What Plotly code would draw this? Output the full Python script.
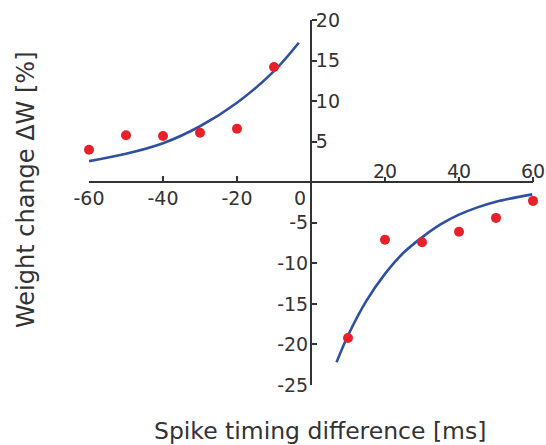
import plotly.graph_objects as go

# Measured weight changes (STDP) at each spike timing difference
dt_pre = [-60, -50, -40, -30, -20, -10]
dw_pre = [4.0, 5.8, 5.7, 6.1, 6.6, 14.2]
dt_post = [10, 20, 30, 40, 50, 60]
dw_post = [-19.2, -7.1, -7.4, -6.1, -4.4, -2.3]

# Exponential fit curves, sampled along each branch
fit_pre_t = [-60, -50, -40, -30, -20, -10, -3.3]
fit_pre_w = [2.6, 3.5, 4.8, 6.9, 9.8, 13.7, 17.2]
fit_post_t = [6.9, 10, 15, 20, 25, 30, 35, 40, 45, 50, 59.8]
fit_post_w = [-22.2, -18.9, -14.6, -11.3, -8.7, -6.8, -5.2, -4.0, -3.1, -2.4, -1.5]

# Tick labels: negative x below the axis, positive x above it;
# positive y right of the axis, negative y left of it
x_ticks_neg = [-60, -40, -20]
x_ticks_pos = [20, 40, 60]
y_ticks_pos = [5, 10, 15, 20]
y_ticks_neg = [-5, -10, -15, -20, -25]

x_range = [-60, 60]
y_range = [-25, 20]

INK = "#333333"
RED = "#e62129"
BLUE = "#2f4fa2"
FONT = "DejaVu Sans"
TICK_SIZE = 19


def labels(vals):
    # plain hyphen-minus rather than the typographic minus
    return [str(v) for v in vals]


fig = go.Figure()

fig.add_trace(go.Scatter(x=fit_pre_t, y=fit_pre_w, mode="lines",
                         line=dict(color=BLUE, width=2.6, shape="spline"),
                         hoverinfo="skip"))
fig.add_trace(go.Scatter(x=fit_post_t, y=fit_post_w, mode="lines",
                         line=dict(color=BLUE, width=2.6, shape="spline"),
                         hoverinfo="skip"))
fig.add_trace(go.Scatter(x=dt_pre + dt_post, y=dw_pre + dw_post, mode="markers",
                         marker=dict(color=RED, size=10), cliponaxis=False))

# height fraction of the y=0 line, width fraction of the x=0 line
x_axis_pos = (0 - y_range[0]) / (y_range[1] - y_range[0])
y_axis_pos = (0 - x_range[0]) / (x_range[1] - x_range[0])

tick_font = dict(family=FONT, size=TICK_SIZE, color=INK)

common_x = dict(range=x_range, showgrid=False, zeroline=False,
                anchor="free", position=x_axis_pos, tickfont=tick_font,
                fixedrange=True, automargin=False)
common_y = dict(range=y_range, showgrid=False, zeroline=False,
                anchor="free", position=y_axis_pos, tickfont=tick_font,
                fixedrange=True, automargin=False)

fig.update_layout(
    width=546, height=445,
    margin=dict(l=89, r=13, t=20, b=60),
    paper_bgcolor="white", plot_bgcolor="white",
    showlegend=False,
    font=dict(family=FONT, color=INK),
    xaxis=dict(**common_x, side="bottom", tickvals=x_ticks_neg,
               ticktext=labels(x_ticks_neg), ticklabelstandoff=-1,
               ticks="inside", ticklen=5, tickwidth=2, tickcolor=INK,
               showline=True, linecolor=INK, linewidth=2),
    xaxis2=dict(**common_x, overlaying="x", side="top", tickvals=x_ticks_pos,
                ticktext=labels(x_ticks_pos), ticklabelstandoff=-8,
                ticks="outside", ticklen=5, tickwidth=2, tickcolor=INK,
                showline=False),
    xaxis3=dict(**common_x, overlaying="x", side="bottom", tickvals=[0],
                ticktext=["0"], ticks="", showline=False,
                ticklabelshift=-11, ticklabelstandoff=3),
    yaxis=dict(**common_y, side="left", tickvals=y_ticks_neg,
               ticktext=labels(y_ticks_neg), ticklabelstandoff=-2,
               ticks="inside", ticklen=5, tickwidth=2, tickcolor=INK,
               showline=True, linecolor=INK, linewidth=2),
    yaxis2=dict(**common_y, overlaying="y", side="right", tickvals=y_ticks_pos,
                ticktext=labels(y_ticks_pos), ticklabelstandoff=-5,
                ticks="outside", ticklen=5, tickwidth=2, tickcolor=INK,
                showline=False),
)

# Empty traces so the overlay axes are drawn
fig.add_trace(go.Scatter(x=[None], y=[None], xaxis="x2", yaxis="y2",
                         hoverinfo="skip"))
fig.add_trace(go.Scatter(x=[None], y=[None], xaxis="x3", yaxis="y",
                         hoverinfo="skip"))

fig.add_annotation(text="Spike timing difference [ms]", xref="paper", yref="paper",
                   x=(320 - 89) / 444, y=(385 - 431) / 365,
                   xanchor="center", yanchor="middle", showarrow=False,
                   font=dict(family=FONT, size=23.5, color=INK))
fig.add_annotation(text="Weight change \u0394W [%]", xref="paper", yref="paper",
                   x=(26 - 89) / 444, y=(385 - 190) / 365, textangle=-90,
                   xanchor="center", yanchor="middle", showarrow=False,
                   font=dict(family=FONT, size=24, color=INK))

fig.write_html("out.html")
